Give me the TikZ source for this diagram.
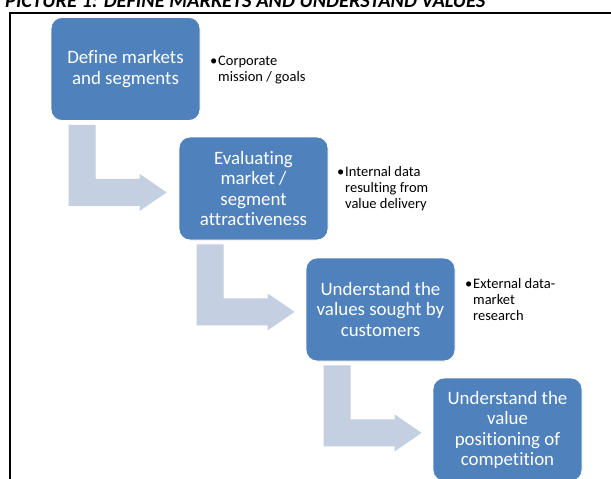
\documentclass[tikz,border=0pt]{standalone}
\usepackage{fontspec}
\setmainfont{Carlito}[Ligatures={NoCommon}]
\usetikzlibrary{calc}
\definecolor{boxblue}{HTML}{4F81BD}
\definecolor{arrowblue}{HTML}{C4CFE2}
\tikzset{
  stepbox/.style={draw=white, line width=0.8pt, fill=boxblue, rounded corners=11pt,
    minimum width=149pt, minimum height=103pt, inner sep=0pt, align=center,
    text=white, font=\fontsize{18.9}{20.5}\selectfont},
  notetext/.style={anchor=base west, inner sep=0pt, text=black,
    font=\fontsize{14.5}{16.3}\selectfont},
  bentarrow/.style={fill=arrowblue, draw=none},
  frameline/.style={line width=2.5pt, black}
}
\newcommand{\bentarr}[1]{%
  \fill[bentarrow, shift={(#1.south west)}]
    (18,4) -- (45,4) -- (45,58) -- (89,58) -- (89,53) -- (116,71.5)
    -- (89,90) -- (89,85) -- (18,85) -- cycle;}
\newcommand{\bulletlist}[1]{%
  \begin{tabular}[t]{@{}p{8pt}@{}l@{}}#1\end{tabular}}
\begin{document}
\begin{tikzpicture}[x=1pt,y=-1pt]
\clip (0,0) rectangle (611,479);
\fill[white] (0,0) rectangle (611,479);
% title
\node[anchor=base west, inner sep=0pt, font=\fontsize{20.4}{22}\selectfont\bfseries\itshape] (title) at (5,7.5)
  {PICTURE 1: DEFINE MARKETS AND UNDERSTAND VALUES};
% frame
\coordinate (ftl) at (10,13);
\coordinate (ftr) at (612,13);
\coordinate (fbl) at (10,480);
\draw[frameline] (ftr) -- (ftl) -- (fbl);
% boxes
\node[stepbox] (b1) at (125.5,69) {Define markets\\and segments};
\node[stepbox] (b2) at (253.5,188.5) {Evaluating\\market /\\segment\\attractiveness};
\node[stepbox] (b3) at (380.5,309.5) {Understand the\\values sought by\\customers};
\node[stepbox] (b4) at (507.5,429.5) {\raisebox{0pt}[14pt][0pt]{}Understand the\\value\\positioning of\\competition};
% arrows
\bentarr{b1}
\bentarr{b2}
\bentarr{b3}
% notes
\node[notetext] (n1) at (210,65) {\bulletlist{•&Corporate\\&mission / goals}};
\node[notetext] (n2) at (337,176) {\bulletlist{•&Internal data\\&resulting from\\&value delivery}};
\node[notetext] (n3) at (465,288) {\bulletlist{•&External data-\\&market\\&research}};
\end{tikzpicture}
\end{document}
